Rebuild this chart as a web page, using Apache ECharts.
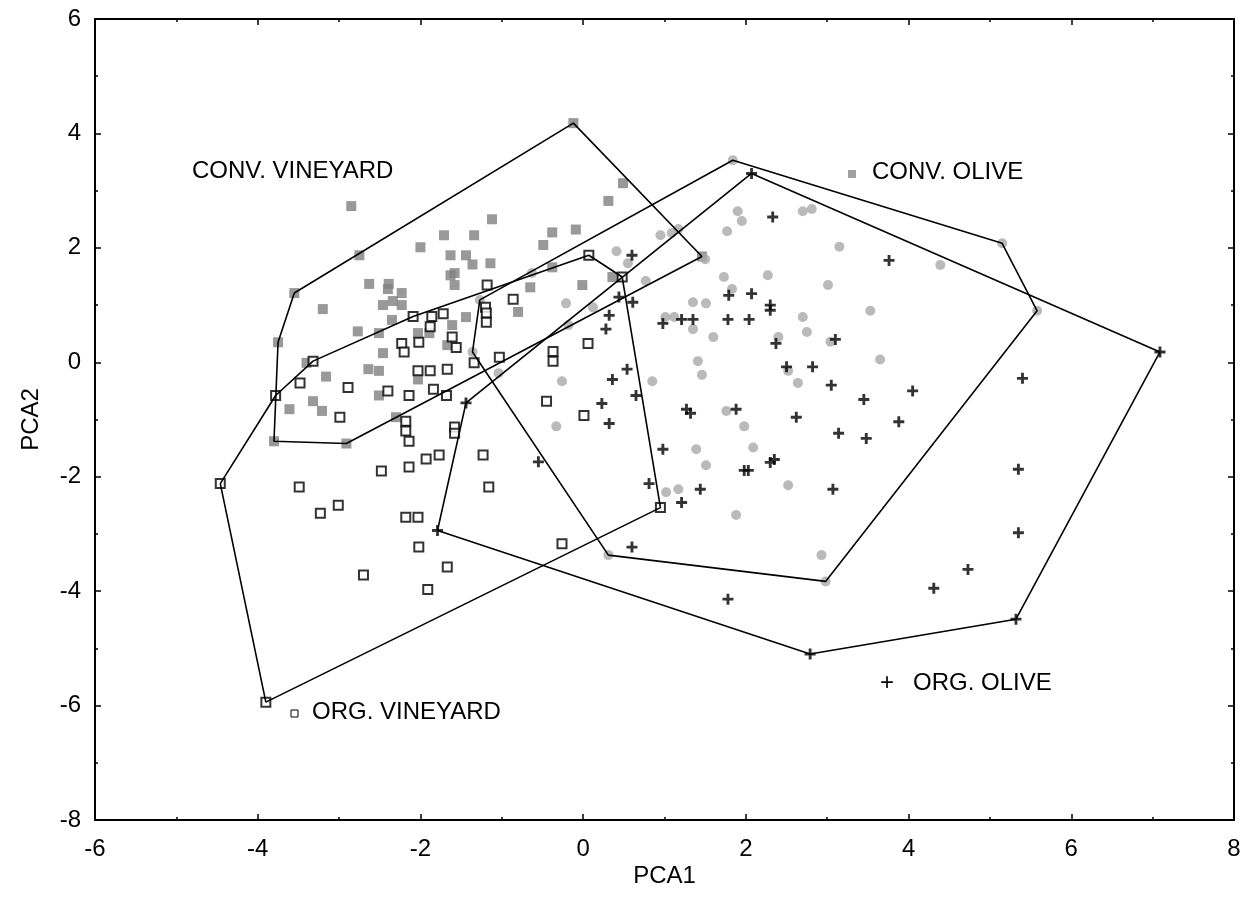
<!DOCTYPE html>
<html>
<head>
<meta charset="utf-8">
<script src="https://cdn.jsdelivr.net/npm/echarts@6.0.0/dist/echarts.min.js"></script>
<style>
  html, body { margin: 0; padding: 0; background: #fff; }
  #pcaChart { width: 1249px; height: 918px; }
</style>
</head>
<body>
<div id="pcaChart"></div>
<script>
// 数据 (PCA1, PCA2)
const convVineyard = [
  [-0.12, 4.18], [0.49, 3.13], [0.31, 2.82], [-2.85, 2.73], [-1.12, 2.5], [-0.38, 2.27], [-0.09, 2.32],
  [-1.71, 2.22], [-1.34, 2.22], [-0.49, 2.05], [-2.0, 2.01], [-2.75, 1.87], [-1.63, 1.87], [-1.44, 1.87],
  [1.46, 1.85], [-1.36, 1.71], [-1.14, 1.73], [-0.38, 1.66], [-1.63, 1.52], [-1.58, 1.56], [-1.58, 1.35],
  [-2.63, 1.37], [-2.39, 1.37], [-2.4, 1.28], [-0.65, 1.31], [-0.01, 1.35], [0.36, 1.49], [-3.55, 1.21],
  [-2.23, 1.21], [-3.2, 0.93], [-2.46, 1.0], [-2.34, 1.07], [-2.23, 1.0], [-0.8, 0.88], [-2.35, 0.74],
  [-1.44, 0.79], [-1.61, 0.65], [-2.77, 0.54], [-2.51, 0.51], [-2.03, 0.51], [-1.89, 0.51], [-1.67, 0.3],
  [-3.75, 0.35], [-2.46, 0.16], [-3.4, -0.01], [-2.64, -0.12], [-2.51, -0.15], [-3.16, -0.25], [-2.03, -0.3],
  [-2.51, -0.58], [-3.32, -0.68], [-3.61, -0.82], [-3.21, -0.85], [-2.3, -0.96], [-3.8, -1.38], [-2.91, -1.42]
];
const orgVineyard = [
  [0.07, 1.87], [0.48, 1.49], [-1.18, 1.35], [-0.86, 1.1], [-1.2, 0.96], [-2.09, 0.8], [-1.86, 0.8],
  [-1.72, 0.85], [-1.19, 0.86], [-1.19, 0.7], [-1.88, 0.62], [-1.61, 0.44], [-2.02, 0.35], [-2.23, 0.33],
  [-2.2, 0.18], [-1.56, 0.26], [-3.32, 0.02], [-1.34, -0.01], [-1.03, 0.09], [0.06, 0.33], [-0.37, 0.19],
  [-0.37, 0.02], [-3.48, -0.36], [-2.89, -0.44], [-2.4, -0.5], [-2.03, -0.15], [-1.88, -0.15], [-1.67, -0.12],
  [-2.14, -0.58], [-1.84, -0.47], [-1.68, -0.58], [-3.78, -0.58], [-0.45, -0.68], [-2.99, -0.96], [0.01, -0.93],
  [-2.18, -1.03], [-2.18, -1.2], [-2.14, -1.38], [-1.58, -1.13], [-1.58, -1.24], [-1.93, -1.69], [-1.77, -1.62],
  [-2.14, -1.83], [-2.48, -1.9], [-1.23, -1.62], [-1.16, -2.18], [-3.49, -2.18], [-4.46, -2.12], [-3.01, -2.5],
  [-3.23, -2.64], [-2.18, -2.71], [-2.03, -2.71], [0.95, -2.54], [-0.26, -3.17], [-2.02, -3.23], [-1.67, -3.58],
  [-2.7, -3.72], [-1.91, -3.97], [-3.9, -5.94]
];
const convOlive = [
  [1.84, 3.53], [1.9, 2.64], [1.95, 2.47], [1.77, 2.29], [2.7, 2.64], [2.81, 2.68], [3.15, 2.02], [5.15, 2.08],
  [4.39, 1.7], [0.95, 2.22], [1.09, 2.26], [1.17, 2.33], [0.41, 1.94], [1.5, 1.8], [0.55, 1.73], [-0.63, 1.56],
  [0.77, 1.42], [1.73, 1.49], [1.83, 1.28], [2.27, 1.52], [3.01, 1.35], [-1.27, 1.09], [-0.21, 1.03], [0.12, 0.96],
  [1.35, 1.05], [1.51, 1.03], [3.53, 0.9], [5.58, 0.9], [-0.18, 0.65], [1.01, 0.79], [1.12, 0.79], [1.35, 0.58],
  [1.6, 0.44], [2.4, 0.44], [2.7, 0.79], [2.75, 0.53], [3.04, 0.36], [-1.36, 0.18], [-1.04, -0.19], [1.41, 0.02],
  [1.46, -0.22], [3.65, 0.05], [2.52, -0.15], [2.64, -0.36], [-0.26, -0.33], [0.85, -0.33], [-0.33, -1.12],
  [1.76, -0.85], [1.98, -1.12], [2.09, -1.49], [1.39, -1.52], [1.51, -1.8], [2.52, -2.15], [1.02, -2.27],
  [1.17, -2.22], [1.88, -2.67], [0.31, -3.37], [2.93, -3.37], [2.98, -3.83]
];
const orgOlive = [
  [2.07, 3.3], [2.33, 2.54], [3.76, 1.78], [0.6, 1.87], [0.44, 1.14], [0.61, 1.05], [1.79, 1.17], [2.07, 1.2],
  [2.3, 1.0], [2.3, 0.91], [0.32, 0.82], [0.28, 0.58], [0.98, 0.68], [1.21, 0.75], [1.35, 0.75], [1.78, 0.75],
  [2.04, 0.75], [2.37, 0.33], [3.1, 0.4], [7.09, 0.18], [0.54, -0.12], [0.36, -0.3], [0.65, -0.58], [0.23, -0.72],
  [0.32, -1.07], [2.5, -0.08], [2.82, -0.08], [3.05, -0.4], [1.27, -0.82], [1.32, -0.89], [1.88, -0.82],
  [2.62, -0.96], [0.98, -1.52], [-0.55, -1.74], [1.98, -1.89], [2.03, -1.89], [2.3, -1.75], [2.35, -1.7],
  [0.81, -2.12], [1.44, -2.22], [3.07, -2.22], [1.21, -2.45], [3.14, -1.24], [5.4, -0.28], [4.05, -0.5],
  [3.45, -0.65], [3.88, -1.04], [3.48, -1.33], [5.35, -1.87], [-1.44, -0.71], [-1.79, -2.94], [0.6, -3.23],
  [1.78, -4.14], [2.79, -5.1], [5.35, -2.98], [4.73, -3.62], [4.31, -3.95], [5.32, -4.49]
];

// 凸包顶点
const convVineyardHull = [[-3.55, 1.21], [-0.12, 4.18], [1.46, 1.85], [-2.91, -1.42], [-3.8, -1.38], [-3.75, 0.35]];
const orgVineyardHull = [[-4.46, -2.12], [-3.78, -0.58], [-3.32, 0.02], [-2.09, 0.8], [0.07, 1.87], [0.48, 1.49], [0.95, -2.54], [-3.9, -5.94]];
const convOliveHull = [[-1.27, 1.09], [1.84, 3.53], [5.15, 2.08], [5.58, 0.9], [2.98, -3.83], [0.31, -3.37], [-1.36, 0.18]];
const orgOliveHull = [[-1.44, -0.71], [2.07, 3.3], [7.09, 0.18], [5.32, -4.49], [2.79, -5.1], [-1.79, -2.94]];

const xRange = [-6, 8];
const yRange = [-8, 6];

const FONT = '"Liberation Sans", Arial, sans-serif';
const plusPath = 'path://M3.7,0H6.3V3.7H10V6.3H6.3V10H3.7V6.3H0V3.7H3.7Z';

function closeHull(pts) {
  return pts.concat([pts[0]]);
}

function hullSeries(pts) {
  return {
    type: 'line',
    data: closeHull(pts),
    symbol: 'none',
    silent: true,
    z: 10,
    lineStyle: { color: '#000', width: 1.6 }
  };
}

let chart = echarts.init(document.getElementById('pcaChart'));

const frameAxis = {
  type: 'value',
  splitLine: { show: false },
  axisLine: { show: true, onZero: false, lineStyle: { color: '#000', width: 2 } },
  axisTick: { show: true, inside: true, length: 6, lineStyle: { color: '#000', width: 1.5 } },
  minorTick: { show: true, splitNumber: 2, length: 3, lineStyle: { color: '#000', width: 1.5 } }
};

let option = {
  backgroundColor: '#fff',
  animation: false,
  grid: { left: 95, right: 15, top: 19, bottom: 98 },
  xAxis: [
    Object.assign({}, frameAxis, {
      position: 'bottom',
      min: xRange[0], max: xRange[1], interval: 2,
      name: 'PCA1', nameLocation: 'middle', nameGap: 44, nameMoveOverlap: false,
      nameTextStyle: { color: '#000', fontSize: 24, fontFamily: FONT },
      axisLabel: { color: '#000', fontSize: 24, fontFamily: FONT, margin: 17 }
    }),
    Object.assign({}, frameAxis, {
      position: 'top',
      min: xRange[0], max: xRange[1], interval: 2,
      axisLabel: { show: false }
    })
  ],
  yAxis: [
    Object.assign({}, frameAxis, {
      position: 'left',
      min: yRange[0], max: yRange[1], interval: 2,
      name: 'PCA2', nameLocation: 'middle', nameGap: 52, nameMoveOverlap: false,
      nameTextStyle: { color: '#000', fontSize: 24, fontFamily: FONT },
      axisLabel: { color: '#000', fontSize: 24, fontFamily: FONT, margin: 14 }
    }),
    Object.assign({}, frameAxis, {
      position: 'right',
      min: yRange[0], max: yRange[1], interval: 2,
      axisLabel: { show: false }
    })
  ],
  graphic: [
    { type: 'text', left: 192, top: 159, style: { text: 'CONV. VINEYARD', fill: '#000', font: '24px ' + FONT } },
    { type: 'rect', shape: { x: 848, y: 170, width: 8, height: 8 }, style: { fill: '#a0a0a0' } },
    { type: 'text', left: 872, top: 160, style: { text: 'CONV. OLIVE', fill: '#000', font: '24px ' + FONT } },
    { type: 'text', left: 880, top: 671, style: { text: '+', fill: '#000', font: '24px ' + FONT } },
    { type: 'text', left: 913, top: 671, style: { text: 'ORG. OLIVE', fill: '#000', font: '24px ' + FONT } },
    { type: 'rect', shape: { x: 291, y: 710, width: 7, height: 7 }, style: { fill: '#fff', stroke: '#000', lineWidth: 1 } },
    { type: 'text', left: 312, top: 700, style: { text: 'ORG. VINEYARD', fill: '#000', font: '24px ' + FONT } }
  ],
  series: [
    {
      name: 'CONV. VINEYARD',
      type: 'scatter',
      data: convVineyard,
      symbol: 'rect',
      symbolSize: 10,
      itemStyle: { color: '#808080' },
      z: 2
    },
    {
      name: 'CONV. OLIVE',
      type: 'scatter',
      data: convOlive,
      symbol: 'circle',
      symbolSize: 10,
      itemStyle: { color: '#a9a9a9' },
      z: 3
    },
    {
      name: 'ORG. VINEYARD',
      type: 'scatter',
      data: orgVineyard,
      symbol: 'rect',
      symbolSize: 9,
      itemStyle: { color: '#fff', borderColor: '#000', borderWidth: 2 },
      z: 4
    },
    {
      name: 'ORG. OLIVE',
      type: 'scatter',
      data: orgOlive,
      symbol: plusPath,
      symbolSize: 11,
      itemStyle: { color: '#000' },
      z: 5
    },
    hullSeries(convVineyardHull),
    hullSeries(orgVineyardHull),
    hullSeries(convOliveHull),
    hullSeries(orgOliveHull)
  ]
};

chart.setOption(option, true);
</script>
</body>
</html>
